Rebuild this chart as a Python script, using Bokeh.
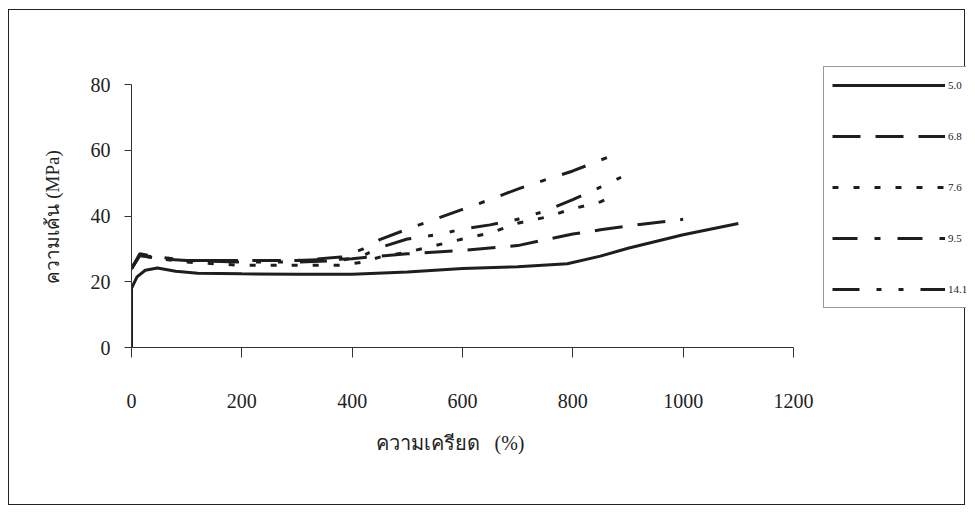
from bokeh.plotting import figure
from bokeh.models import Range1d, Legend, LegendItem, FixedTicker, Title
from bokeh.embed import file_html
from bokeh.resources import INLINE

# ---- data ----
strain_50 = [0, 0, 10, 25, 47, 80, 120, 200, 300, 400, 500, 600, 700, 790, 850, 900, 1000, 1100]
stress_50 = [0, 18, 21.5, 23.5, 24.2, 23.2, 22.6, 22.4, 22.3, 22.3, 23.0, 24.0, 24.6, 25.5, 27.8, 30.2, 34.3, 37.7]

strain_68 = [0, 15, 50, 100, 200, 300, 400, 450, 500, 600, 700, 750, 800, 850, 900, 1000]
stress_68 = [24, 28, 27, 26.5, 26.5, 26.5, 27, 27.8, 28.5, 29.5, 31, 32.8, 34.5, 35.8, 37, 39]

strain_76 = [0, 15, 50, 100, 200, 300, 380, 420, 450, 500, 550, 600, 650, 700, 750, 800, 850, 880]
stress_76 = [24, 28, 27, 26, 25, 25, 25, 26, 27.5, 29, 31, 33, 34.8, 37.8, 39.6, 42.2, 44.3, 46.5]

strain_95 = [0, 15, 50, 100, 200, 300, 380, 420, 450, 500, 550, 600, 650, 700, 750, 800, 850, 880]
stress_95 = [24, 28.5, 27.5, 26.5, 26.5, 26.5, 27.5, 30, 32.8, 36, 39, 42, 45, 48.2, 51, 53.7, 57, 59]

strain_141 = [0, 15, 50, 100, 200, 300, 380, 420, 450, 500, 550, 600, 650, 700, 750, 800, 850, 900]
stress_141 = [24, 28, 27.5, 26.5, 26, 26, 26.5, 28, 30.4, 33, 34.2, 36, 37.3, 39, 41.5, 45, 48.8, 52.8]

series_labels = ["5.0", "6.8", "7.6", "9.5", "14.1"]
x_ticks = [0, 200, 400, 600, 800, 1000, 1200]
y_ticks = [0, 20, 40, 60, 80]
x_title = "ความเครียด\u00a0\u00a0\u00a0(%)"
y_title = "ความเค้น (MPa)"

SERIF = "Liberation Serif"
INK = "#1e1e1e"

# frame extends past the axes so the legend box fits inside it; axes are bounded to 0-1200 / 0-80
p = figure(width=957, height=496, output_backend="svg", toolbar_location=None,
           x_range=Range1d(0, 1513.6), y_range=Range1d(0, 86.7),
           min_border_left=122, min_border_right=0, min_border_top=52, min_border_bottom=159)
p.styles = {"border": "1px solid #222", "margin-left": "8px", "margin-top": "9px"}
p.outline_line_color = None
p.xgrid.visible = False
p.ygrid.visible = False

# x axis
xa = p.xaxis[0]
xa.bounds = (0, 1200)
xa.ticker = FixedTicker(ticks=x_ticks)
xa.major_tick_out = 10
xa.major_tick_in = 0
xa.minor_tick_out = 0
xa.minor_tick_in = 0
xa.axis_line_color = "#333"
xa.major_tick_line_color = "#333"
xa.major_label_standoff = 36
xa.major_label_text_font = SERIF
xa.major_label_text_font_size = "20px"
xa.major_label_text_color = "#222"

# y axis
ya = p.yaxis[0]
ya.bounds = (0, 80)
ya.ticker = FixedTicker(ticks=y_ticks)
ya.major_tick_out = 7
ya.major_tick_in = 0
ya.minor_tick_out = 0
ya.minor_tick_in = 0
ya.axis_line_color = "#333"
ya.major_tick_line_color = "#333"
ya.major_label_standoff = 14
ya.major_label_text_font = SERIF
ya.major_label_text_font_size = "20px"
ya.major_label_text_color = "#222"

# axis titles placed as side-panel titles so they can be offset like the reference
xt = Title(text=x_title, align="left", offset=244, standoff=39,
           text_font=SERIF, text_font_size="20px", text_font_style="normal", text_color="#222")
p.add_layout(xt, "below")
yt = Title(text=y_title, align="left", offset=64, standoff=50,
           text_font=SERIF, text_font_size="19px", text_font_style="normal", text_color="#222")
p.add_layout(yt, "left")

lw = 3
r50 = p.line(strain_50, stress_50, line_color=INK, line_width=lw)
r68 = p.line(strain_68, stress_68, line_color=INK, line_width=lw, line_dash="28 15")
r76 = p.line(strain_76, stress_76, line_color=INK, line_width=lw, line_dash="6 15")
r95 = p.line(strain_95, stress_95, line_color=INK, line_width=lw, line_dash="25 17 6 17")
r141 = p.line(strain_141, stress_141, line_color=INK, line_width=lw, line_dash="27 17 5 17 5 17")

renderers = [r50, r68, r76, r95, r141]
legend = Legend(items=[LegendItem(label=lab, renderers=[r]) for lab, r in zip(series_labels, renderers)],
                location=(692, 39), orientation="vertical",
                glyph_width=113, glyph_height=20, spacing=31, padding=8, margin=0,
                label_standoff=3, label_text_font=SERIF, label_text_font_size="11px",
                label_text_color="#222", label_height=20, label_width=14,
                border_line_color="#333", border_line_width=1,
                background_fill_color="white", background_fill_alpha=1)
p.add_layout(legend, "center")

open("out.html", "w").write(file_html(p, INLINE))
